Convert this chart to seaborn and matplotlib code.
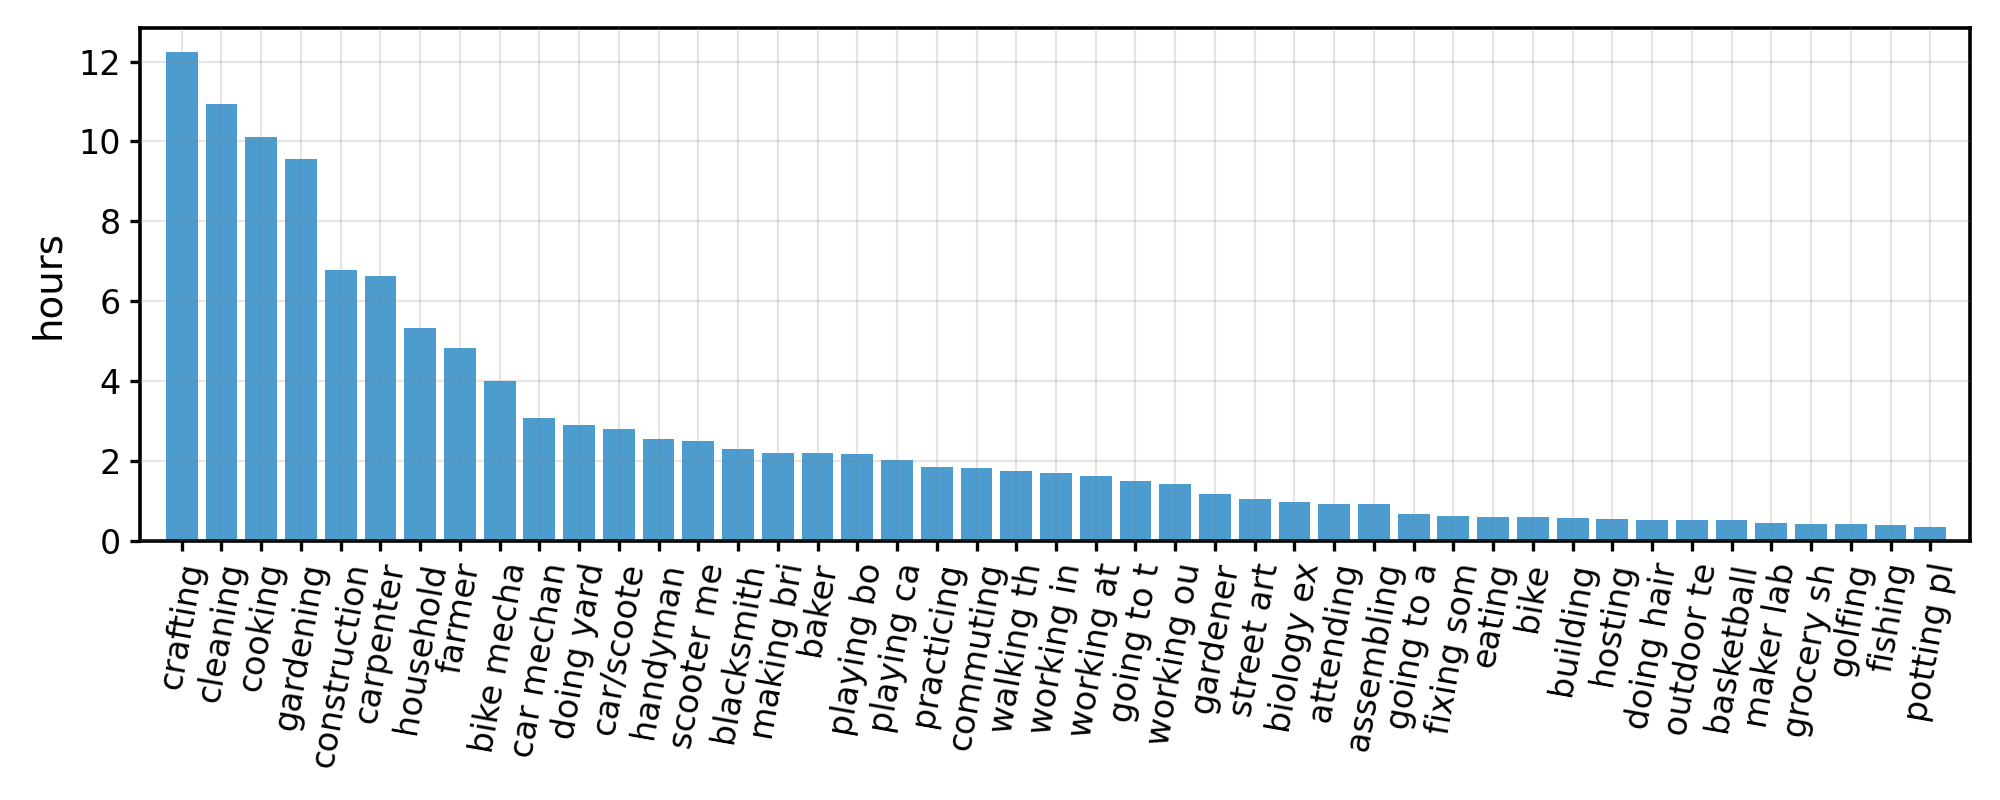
import matplotlib
matplotlib.use("Agg")
import matplotlib.pyplot as plt
import seaborn as sns
import pandas as pd

categories = ["crafting", "cleaning", "cooking", "gardening", "construction", "carpenter",
              "household", "farmer", "bike mecha", "car mechan", "doing yard", "car/scoote",
              "handyman", "scooter me", "blacksmith", "making bri", "baker", "playing bo",
              "playing ca", "practicing", "commuting", "walking th", "working in", "working at",
              "going to t", "working ou", "gardener", "street art", "biology ex", "attending",
              "assembling", "going to a", "fixing som", "eating", "bike", "building", "hosting",
              "doing hair", "outdoor te", "basketball", "maker lab", "grocery sh", "golfing",
              "fishing", "potting pl"]
hours = [12.23, 10.95, 10.12, 9.57, 6.77, 6.62, 5.32, 4.84, 4.00, 3.08, 2.90, 2.80,
         2.55, 2.50, 2.30, 2.20, 2.20, 2.18, 2.03, 1.85, 1.82, 1.75, 1.70, 1.62,
         1.50, 1.42, 1.17, 1.05, 0.97, 0.92, 0.92, 0.67, 0.62, 0.59, 0.59, 0.57, 0.54,
         0.52, 0.52, 0.52, 0.44, 0.42, 0.42, 0.39, 0.34]

df = pd.DataFrame({"activity": categories, "hours": hours})

fig = plt.figure(figsize=(10, 4), dpi=200)
ax = fig.add_axes([0.070, 0.324, 0.915, 0.641])
sns.barplot(data=df, x="activity", y="hours", color="#4C9CCF", saturation=1,
            width=0.8, ax=ax, zorder=1)
ax.set_xlim(-1.05, len(categories) - 0.0)
ax.set_ylim(0, max(hours) * 1.05)
ax.grid(True, color="gray", alpha=0.2, linewidth=0.8, zorder=3)
ax.set_axisbelow(False)
ax.set_xlabel("")
ax.set_ylabel("hours", fontsize=14)
ax.tick_params(axis="y", labelsize=12, width=1.2)
ax.tick_params(axis="x", labelsize=12, width=1.2)
plt.setp(ax.get_xticklabels(), rotation=80, ha="center")
for s in ax.spines.values():
    s.set_linewidth(1.3)
    s.set_color("black")
fig.savefig("out.png", dpi=200)
